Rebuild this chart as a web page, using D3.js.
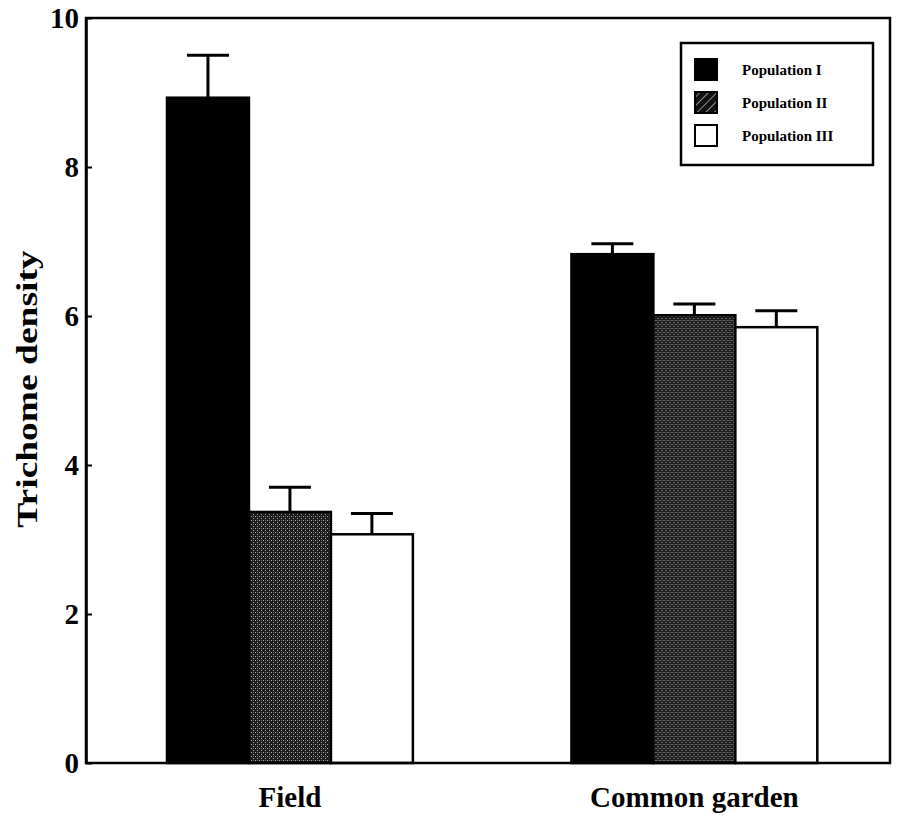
<!DOCTYPE html>
<html>
<head>
<meta charset="utf-8">
<script src="https://cdn.jsdelivr.net/npm/d3@7"></script>
<style>
html,body{margin:0;padding:0;background:#fff;}
svg{display:block;}
</style>
</head>
<body>
<svg id="chart" width="900" height="817"></svg>
<script>
const groups = ["Field", "Common garden"];
const series = ["Population I", "Population II", "Population III"];
const means = [
  [8.93, 3.37, 3.07],
  [6.83, 6.01, 5.85]
];
const errors = [
  [0.57, 0.33, 0.28],
  [0.14, 0.15, 0.22]
];
const yTicks = [0, 2, 4, 6, 8, 10];

(function () {
const svg = d3.select("#chart");
const mLeft = 86, mRight = 890, mTop = 18, mBottom = 763;
const serif = "'Liberation Serif','DejaVu Serif',serif";

const defs = svg.append("defs");
const stip = defs.append("pattern").attr("id","stipple").attr("patternUnits","userSpaceOnUse")
  .attr("width",4).attr("height",4);
stip.append("rect").attr("width",4).attr("height",4).attr("fill","#1c1c1c");
stip.append("rect").attr("x",0).attr("y",0).attr("width",1).attr("height",1).attr("fill","#aaa");
stip.append("rect").attr("x",2).attr("y",2).attr("width",1).attr("height",1).attr("fill","#aaa");
stip.append("rect").attr("x",2).attr("y",0).attr("width",1).attr("height",1).attr("fill","#666");
const hatch = defs.append("pattern").attr("id","hatch").attr("patternUnits","userSpaceOnUse")
  .attr("width",6).attr("height",6).attr("patternTransform","rotate(45)");
hatch.append("rect").attr("width",6).attr("height",6).attr("fill","#111");
hatch.append("line").attr("x1",0).attr("y1",0).attr("x2",0).attr("y2",6).attr("stroke","#ddd").attr("stroke-width",1.2);

const fills = ["#000", "url(#stipple)", "#fff"];
const legendFills = ["#000", "url(#hatch)", "#fff"];

const y = d3.scaleLinear().domain([0, 10]).range([mBottom, mTop]);
const x0 = d3.scaleBand().domain(groups).range([mLeft, mRight])
  .paddingInner(0.392).paddingOuter(0.19).align(0.527);
const x1 = d3.scaleBand().domain(series).range([0, x0.bandwidth()]).padding(0);

groups.forEach((g, gi) => {
  const gg = svg.append("g").attr("transform", `translate(${x0(g)},0)`);
  series.forEach((s, si) => {
    const v = means[gi][si], e = errors[gi][si];
    const cx = x1(s) + x1.bandwidth() / 2;
    gg.append("line").attr("x1", cx).attr("x2", cx).attr("y1", y(v)).attr("y2", y(v + e))
      .attr("stroke", "#000").attr("stroke-width", 3);
    gg.append("line").attr("x1", cx - 21).attr("x2", cx + 21).attr("y1", y(v + e)).attr("y2", y(v + e))
      .attr("stroke", "#000").attr("stroke-width", 3);
    gg.append("rect").attr("x", x1(s)).attr("y", y(v))
      .attr("width", x1.bandwidth()).attr("height", y(0) - y(v))
      .attr("fill", fills[si]).attr("stroke", "#000").attr("stroke-width", 2.5);
  });
});

svg.append("rect").attr("x", mLeft).attr("y", mTop).attr("width", mRight - mLeft).attr("height", mBottom - mTop)
  .attr("fill", "none").attr("stroke", "#000").attr("stroke-width", 2.5);

const yAxis = svg.append("g").attr("transform", `translate(${mLeft},0)`)
  .call(d3.axisLeft(y).tickValues(yTicks).tickSizeInner(-6).tickSizeOuter(0).tickPadding(7).tickFormat(d3.format("d")));
yAxis.select(".domain").attr("stroke-width", 2.5);
yAxis.selectAll(".tick line").attr("stroke-width", 2);
yAxis.selectAll("text").attr("font-family", serif).attr("font-weight", "bold").attr("font-size", 29).attr("fill", "#000");

svg.append("g").selectAll("text").data(groups).join("text")
  .attr("x", d => x0(d) + x0.bandwidth() / 2).attr("y", 807)
  .attr("text-anchor", "middle").attr("font-family", serif).attr("font-weight", "bold")
  .attr("font-size", 29).attr("fill", "#000").text(d => d);

svg.append("text").attr("transform", "translate(37,389) rotate(-90) scale(1.25,1)")
  .attr("text-anchor", "middle").attr("font-family", serif).attr("font-weight", "bold")
  .attr("font-size", 30).attr("fill", "#000")
  .text("Trichome density");

const lg = svg.append("g").attr("transform", "translate(681,43)");
lg.append("rect").attr("width", 192).attr("height", 122).attr("fill", "#fff")
  .attr("stroke", "#000").attr("stroke-width", 2.5);
series.forEach((s, i) => {
  lg.append("rect").attr("x", 14).attr("y", 16 + i * 33).attr("width", 22).attr("height", 21)
    .attr("fill", legendFills[i]).attr("stroke", "#000").attr("stroke-width", 2);
  lg.append("text").attr("x", 61).attr("y", 32 + i * 33)
    .attr("font-family", serif).attr("font-weight", "bold").attr("font-size", 15).attr("fill", "#000").text(s);
});
})();
</script>
</body>
</html>
